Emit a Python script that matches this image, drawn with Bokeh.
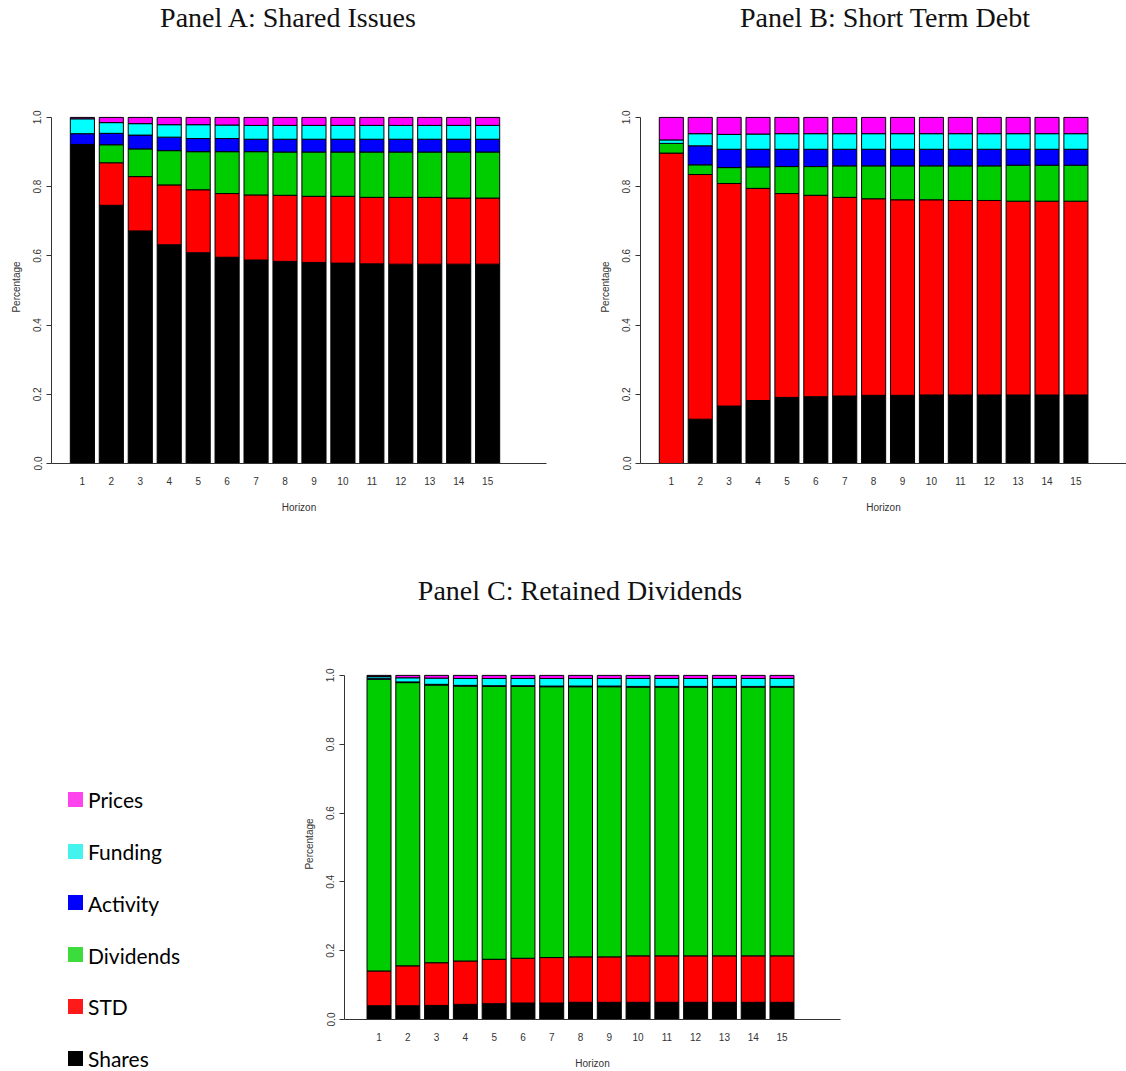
from bokeh.plotting import figure
from bokeh.models import Range1d, FixedTicker, Div, ColumnDataSource, PrintfTickFormatter
from bokeh.layouts import column, row
from bokeh.embed import file_html
from bokeh.resources import INLINE

# ---------------- data ----------------
horizons = [str(i) for i in range(1, 16)]
series = ["Shares", "STD", "Dividends", "Activity", "Funding", "Prices"]
bar_colors = ["#000000", "#FF0000", "#00CD00", "#0000FF", "#00FFFF", "#FF00FF"]
legend_names = ["Prices", "Funding", "Activity", "Dividends", "STD", "Shares"]
legend_colors = ["#FF44EE", "#44F2EE", "#0000FF", "#3CDC3C", "#FF1A1A", "#000000"]

# Panel A: Shared Issues
a_shares = [0.922, 0.746, 0.672, 0.632, 0.609, 0.596, 0.588, 0.584, 0.581, 0.579, 0.577, 0.576, 0.576, 0.576, 0.576]
a_std = [0.000, 0.123, 0.157, 0.173, 0.182, 0.184, 0.188, 0.191, 0.191, 0.193, 0.192, 0.193, 0.193, 0.191, 0.191]
a_div = [0.000, 0.052, 0.080, 0.099, 0.110, 0.121, 0.125, 0.125, 0.128, 0.128, 0.131, 0.131, 0.131, 0.133, 0.133]
a_act = [0.031, 0.033, 0.040, 0.039, 0.038, 0.038, 0.036, 0.037, 0.037, 0.037, 0.037, 0.037, 0.037, 0.037, 0.037]
a_fund = [0.043, 0.031, 0.033, 0.036, 0.040, 0.039, 0.040, 0.040, 0.040, 0.040, 0.040, 0.040, 0.040, 0.040, 0.040]
a_prices = [0.004, 0.015, 0.018, 0.021, 0.021, 0.022, 0.023, 0.023, 0.023, 0.023, 0.023, 0.023, 0.023, 0.023, 0.023]

# Panel B: Short Term Debt
b_shares = [0.000, 0.128, 0.166, 0.182, 0.191, 0.193, 0.195, 0.197, 0.197, 0.198, 0.198, 0.198, 0.198, 0.198, 0.198]
b_std = [0.897, 0.707, 0.643, 0.613, 0.589, 0.582, 0.574, 0.568, 0.565, 0.564, 0.562, 0.562, 0.560, 0.560, 0.560]
b_div = [0.028, 0.028, 0.046, 0.062, 0.078, 0.083, 0.091, 0.095, 0.098, 0.098, 0.100, 0.100, 0.104, 0.104, 0.104]
b_act = [0.000, 0.055, 0.053, 0.051, 0.050, 0.050, 0.048, 0.048, 0.048, 0.048, 0.048, 0.048, 0.046, 0.046, 0.046]
b_fund = [0.010, 0.035, 0.043, 0.044, 0.045, 0.045, 0.045, 0.045, 0.045, 0.045, 0.045, 0.045, 0.045, 0.045, 0.045]
b_prices = [0.065, 0.047, 0.049, 0.048, 0.047, 0.047, 0.047, 0.047, 0.047, 0.047, 0.047, 0.047, 0.047, 0.047, 0.047]

# Panel C: Retained Dividends
c_shares = [0.040, 0.040, 0.041, 0.044, 0.046, 0.048, 0.048, 0.050, 0.050, 0.050, 0.050, 0.050, 0.050, 0.050, 0.050]
c_std = [0.101, 0.116, 0.124, 0.126, 0.129, 0.130, 0.132, 0.132, 0.132, 0.135, 0.135, 0.135, 0.135, 0.135, 0.135]
c_div = [0.848, 0.823, 0.807, 0.799, 0.793, 0.790, 0.787, 0.785, 0.785, 0.781, 0.781, 0.781, 0.781, 0.781, 0.781]
c_act = [0.003, 0.002, 0.002, 0.002, 0.002, 0.002, 0.002, 0.002, 0.002, 0.002, 0.002, 0.002, 0.002, 0.002, 0.002]
c_fund = [0.005, 0.012, 0.018, 0.020, 0.021, 0.021, 0.022, 0.022, 0.022, 0.023, 0.023, 0.023, 0.023, 0.023, 0.023]
c_prices = [0.003, 0.007, 0.008, 0.009, 0.009, 0.009, 0.009, 0.009, 0.009, 0.009, 0.009, 0.009, 0.009, 0.009, 0.009]

y_ticks = [0.0, 0.2, 0.4, 0.6, 0.8, 1.0]

# R barplot layout: width 1, space 0.2
x_pos = [round(0.7 + 1.2 * i, 2) for i in range(len(horizons))]

AX_FONT = "Liberation Sans"
AX_COL = "#333333"


def make_panel(vals, width, height, xr, b_left, b_right, b_top, b_bottom, tick_sd, lab_sd):
    src = ColumnDataSource(dict(x=x_pos, **dict(zip(series, vals))))
    p = figure(width=width, height=height, x_range=Range1d(*xr), y_range=Range1d(0, 1.02),
               output_backend="svg", toolbar_location=None,
               min_border_left=b_left, min_border_right=b_right,
               min_border_top=b_top, min_border_bottom=b_bottom,
               outline_line_color=None, background_fill_color="white")
    p.vbar_stack(series, x="x", width=1.0, source=src, fill_color=bar_colors,
                 line_color="black", line_width=1)
    p.grid.visible = False
    # x axis
    xa = p.xaxis[0]
    xa.ticker = FixedTicker(ticks=x_pos)
    xa.major_label_overrides = {x: h for x, h in zip(x_pos, horizons)}
    xa.major_tick_line_color = None
    xa.major_tick_out = 0
    xa.major_tick_in = 0
    xa.minor_tick_line_color = None
    xa.axis_line_color = AX_COL
    xa.major_label_standoff = tick_sd
    xa.axis_label = "Horizon"
    xa.axis_label_standoff = lab_sd
    # y axis
    ya = p.yaxis[0]
    ya.ticker = FixedTicker(ticks=y_ticks)
    ya.formatter = PrintfTickFormatter(format="%.1f")
    ya.bounds = (0, 1)
    ya.major_label_orientation = "vertical"
    ya.major_tick_out = 5
    ya.major_tick_in = 0
    ya.minor_tick_line_color = None
    ya.major_tick_line_color = AX_COL
    ya.axis_line_color = AX_COL
    ya.major_label_standoff = 5
    ya.axis_label = "Percentage"
    ya.axis_label_standoff = 9
    for ax in (xa, ya):
        ax.major_label_text_font = AX_FONT
        ax.major_label_text_font_size = "10px"
        ax.major_label_text_color = AX_COL
        ax.axis_label_text_font = AX_FONT
        ax.axis_label_text_font_size = "10px"
        ax.axis_label_text_font_style = "normal"
        ax.axis_label_text_color = AX_COL
    return p


pA = make_panel([a_shares, a_std, a_div, a_act, a_fund, a_prices], 596, 482,
                (-0.58, 19.94), 51, 50, 62, 67, 13, 14)
pB = make_panel([b_shares, b_std, b_div, b_act, b_fund, b_prices], 530, 482,
                (-0.58, 19.60), 43, 0, 62, 67, 13, 14)
pC = make_panel([c_shares, c_std, c_div, c_act, c_fund, c_prices], 560, 456,
                (-0.74, 19.94), 41, 20, 53, 51, 13, 14)

# ---------------- legend (HTML, left of panel C) ----------------
LEG_TOP0 = 177      # first swatch top inside the legend box
LEG_STEP = 51.7
swatches = []
for i, (name, col) in enumerate(zip(legend_names, legend_colors)):
    top = LEG_TOP0 + i * LEG_STEP
    swatches.append(
        f'<div style="position:absolute;left:68px;top:{top:.1f}px;width:15px;height:15px;'
        f'background:{col};"></div>'
        f'<div style="position:absolute;left:88px;top:{top - 1.6:.1f}px;line-height:20px;'
        f'font-family:Lato;font-size:21px;color:#000000;white-space:nowrap;">{name}</div>'
    )
leg = Div(text=f'<div style="position:relative;width:300px;height:456px;">{"".join(swatches)}</div>',
          width=300, height=456, margin=0)

TSTYLE = ("position:absolute;top:{t}px;left:{l}px;width:400px;text-align:center;"
          "font-family:'Liberation Serif';font-size:28px;line-height:20px;color:#111111;"
          "white-space:nowrap;")


def title_div(entries, width, height):
    inner = "".join(f'<div style="{TSTYLE.format(t=t, l=l)}">{txt}</div>' for txt, l, t in entries)
    html = f'<div style="position:relative;width:{width}px;height:{height}px;">{inner}</div>'
    return Div(text=html, width=width, height=height, margin=0)


top_titles = title_div([("Panel A: Shared Issues", 88, 8),
                        ("Panel B: Short Term Debt", 685, 8)], 1126, 48)
mid_title = title_div([("Panel C: Retained Dividends", 380, 51)], 1126, 85)

layout = column(top_titles, row(pA, pB), mid_title, row(leg, pC))

open("out.html", "w").write(file_html(layout, INLINE))
